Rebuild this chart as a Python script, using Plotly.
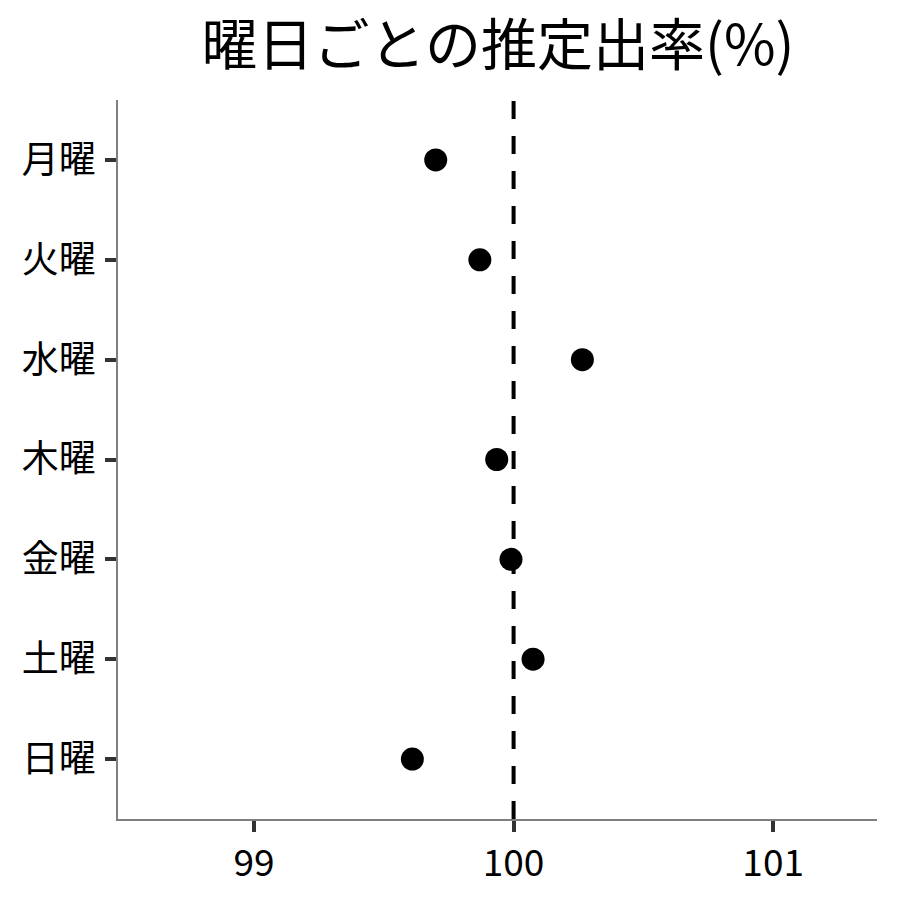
import plotly.graph_objects as go

days = ["月曜", "火曜", "水曜", "木曜", "金曜", "土曜", "日曜"]
rates = [99.70, 99.87, 100.265, 99.935, 99.99, 100.075, 99.61]
ref_value = 100
x_ticks = [99, 100, 101]

font = "Noto Sans CJK JP"

fig = go.Figure()
fig.add_trace(go.Scatter(
    x=rates, y=days, mode="markers",
    marker=dict(color="black", size=23, line=dict(width=0)),
    showlegend=False, hoverinfo="x+y",
))
fig.add_shape(type="line", xref="x", yref="paper", x0=ref_value, x1=ref_value,
              y0=0, y1=1, line=dict(color="black", width=4, dash="18px,17px"))

fig.update_layout(
    width=900, height=900,
    margin=dict(l=110, r=31, t=92, b=89),
    paper_bgcolor="white", plot_bgcolor="white",
    font=dict(family=font, color="black"),
    title=dict(text="曜日ごとの推定出率(%)", x=0.5444, xanchor="center",
               y=0.9589, yanchor="middle", font=dict(size=56, family=font, color="black")),
)
fig.update_xaxes(
    range=[98.476, 101.4], tickvals=x_ticks, ticktext=[str(t) for t in x_ticks],
    showgrid=False, zeroline=False, showline=True, linecolor="#7f7f7f", linewidth=1.5,
    ticks="outside", ticklen=11, tickwidth=4, tickcolor="#333333",
    tickfont=dict(size=37, family=font, color="black"),
)
fig.update_yaxes(
    type="category", categoryorder="array", categoryarray=days,
    range=[6.6, -0.6],
    showgrid=False, zeroline=False, showline=True, linecolor="#7f7f7f", linewidth=1.5,
    ticks="outside", ticklen=11, tickwidth=4, tickcolor="#333333",
    ticklabelstandoff=2,
    tickfont=dict(size=37, family=font, color="black"),
)
fig.write_html("out.html")
